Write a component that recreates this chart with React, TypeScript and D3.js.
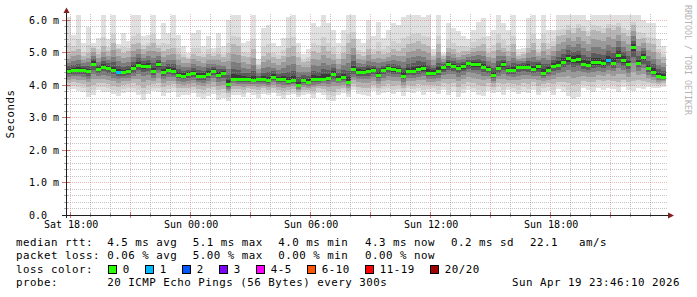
import React from 'react';
import * as d3 from 'd3';

const W = 697;
const H = 297;
const END = new Date(2026, 3, 19, 23, 46, 10);
const HOURS = 30;
const STEP_MIN = 15;

// median RTT (ms), one value per 15-minute step
const median = [
  4.43, 4.45, 4.47, 4.46, 4.42, 4.66, 4.48, 4.56, 4.52, 4.46, 4.39, 4.39, 4.42, 4.51, 4.63, 4.59, 4.60, 4.42, 4.64, 4.40, 4.46, 4.44, 4.31, 4.28,
  4.33, 4.36, 4.28, 4.28, 4.34, 4.44, 4.31, 4.36, 4.02, 4.20, 4.17, 4.17, 4.17, 4.16, 4.17, 4.18, 4.15, 4.25, 4.17, 4.18, 4.12, 4.15, 3.99, 4.15,
  4.10, 4.19, 4.18, 4.20, 4.22, 4.35, 4.20, 4.25, 4.10, 4.48, 4.41, 4.41, 4.43, 4.46, 4.31, 4.46, 4.51, 4.48, 4.46, 4.28, 4.43, 4.44, 4.48, 4.51,
  4.38, 4.38, 4.44, 4.54, 4.64, 4.58, 4.53, 4.58, 4.67, 4.64, 4.64, 4.56, 4.48, 4.31, 4.51, 4.64, 4.46, 4.46, 4.56, 4.56, 4.56, 4.48, 4.58, 4.38,
  4.46, 4.60, 4.62, 4.72, 4.82, 4.77, 4.79, 4.64, 4.62, 4.70, 4.70, 4.67, 4.77, 4.69, 4.92, 4.77, 4.64, 5.17, 4.69, 4.87, 4.51, 4.41, 4.28, 4.26,
];

// slowest ping of each step (ms)
const smokeMax = [
  6.10, 5.55, 6.15, 5.30, 5.80, 5.30, 5.45, 6.15, 5.40, 6.15, 5.25, 5.60, 5.35, 6.15, 6.15, 5.50, 5.55, 6.15, 5.40, 5.90, 5.60, 6.15, 5.55, 5.20,
  5.00, 5.60, 5.70, 5.20, 5.50, 5.15, 5.60, 5.20, 6.00, 6.15, 6.15, 5.30, 5.35, 6.15, 4.80, 5.75, 5.85, 5.30, 5.20, 5.45, 6.10, 6.15, 5.30, 4.95,
  5.10, 5.90, 5.80, 6.15, 5.90, 5.70, 5.30, 5.70, 6.15, 6.15, 5.40, 5.30, 6.00, 5.50, 5.95, 5.45, 5.70, 5.90, 5.85, 6.10, 6.15, 6.15, 6.15, 6.10,
  6.15, 5.10, 6.15, 5.00, 5.90, 5.75, 5.65, 5.50, 5.40, 5.70, 5.95, 6.05, 5.50, 5.70, 6.15, 5.90, 5.70, 6.15, 5.10, 5.15, 6.05, 6.15, 5.40, 6.15,
  5.70, 5.70, 6.15, 6.15, 6.15, 6.15, 6.15, 6.15, 6.00, 6.15, 6.15, 6.15, 6.15, 6.15, 6.15, 6.15, 6.15, 6.15, 6.15, 6.00, 5.90, 5.90, 5.40, 5.20,
];

// upper edge of the dense part of the smoke (ms)
const smokeHi = [
  4.95, 5.05, 5.10, 4.90, 5.00, 5.15, 4.95, 5.20, 5.05, 5.30, 5.10, 5.00, 5.05, 5.25, 5.30, 5.10, 5.20, 5.30, 5.15, 5.05, 5.10, 5.15, 4.95, 4.85,
  4.80, 4.95, 4.90, 4.85, 4.95, 4.90, 4.95, 4.85, 5.00, 5.25, 5.20, 4.90, 4.85, 5.10, 4.60, 4.90, 5.00, 4.85, 4.80, 4.90, 5.15, 5.20, 4.85, 4.70,
  4.75, 5.05, 5.00, 5.20, 5.05, 4.95, 4.80, 5.00, 5.30, 5.40, 4.95, 4.90, 5.10, 4.95, 5.05, 4.95, 5.00, 5.10, 5.05, 5.15, 5.25, 5.30, 5.35, 5.25,
  5.20, 4.90, 5.25, 4.90, 5.15, 5.10, 5.00, 5.05, 5.05, 5.15, 5.20, 5.25, 5.00, 5.05, 5.30, 5.15, 5.05, 5.25, 4.90, 4.95, 5.15, 5.30, 5.00, 5.30,
  5.10, 5.20, 5.50, 5.55, 5.70, 5.60, 5.75, 5.65, 5.50, 5.70, 5.65, 5.60, 5.75, 5.70, 5.80, 5.60, 5.50, 5.85, 5.40, 5.45, 5.30, 5.25, 5.00, 4.85,
];

// lower edge of the dense part of the smoke (ms)
const smokeLo = [
  4.05, 4.08, 4.05, 4.02, 3.95, 4.00, 4.05, 4.05, 4.02, 3.98, 3.95, 4.00, 4.02, 4.05, 4.00, 3.92, 4.00, 4.02, 4.05, 3.95, 4.00, 4.02, 3.92, 3.90,
  3.92, 3.95, 3.88, 3.85, 3.90, 3.95, 3.85, 3.88, 3.75, 3.88, 3.88, 3.85, 3.90, 3.88, 3.85, 3.90, 3.85, 3.90, 3.85, 3.82, 3.85, 3.88, 3.78, 3.85,
  3.85, 3.82, 3.90, 3.88, 3.82, 3.80, 3.88, 3.92, 3.82, 4.02, 3.95, 3.92, 3.90, 4.00, 3.92, 3.98, 4.02, 3.98, 4.00, 3.90, 4.00, 3.98, 4.02, 4.00,
  4.00, 4.00, 3.98, 4.05, 4.02, 4.05, 3.95, 4.02, 4.08, 4.05, 4.00, 3.98, 4.05, 3.95, 4.05, 4.02, 4.05, 4.02, 4.00, 4.05, 4.02, 4.08, 3.98, 4.02,
  4.05, 4.02, 4.10, 4.08, 4.05, 4.00, 4.02, 4.12, 4.10, 4.08, 4.15, 4.12, 4.15, 4.12, 4.10, 4.15, 4.10, 4.12, 4.15, 4.12, 4.10, 4.05, 4.02, 4.05,
];

// fastest ping of each step (ms)
const smokeMin = [
  3.85, 3.88, 3.82, 3.80, 3.62, 3.70, 3.85, 3.80, 3.78, 3.72, 3.66, 3.75, 3.80, 3.78, 3.70, 3.55, 3.72, 3.82, 3.78, 3.65, 3.74, 3.80, 3.62, 3.68,
  3.70, 3.75, 3.62, 3.58, 3.65, 3.72, 3.55, 3.60, 3.52, 3.68, 3.70, 3.62, 3.75, 3.70, 3.60, 3.72, 3.68, 3.75, 3.65, 3.58, 3.70, 3.72, 3.62, 3.70,
  3.72, 3.60, 3.75, 3.70, 3.55, 3.50, 3.68, 3.75, 3.62, 3.85, 3.72, 3.70, 3.65, 3.82, 3.70, 3.75, 3.80, 3.72, 3.78, 3.65, 3.80, 3.75, 3.82, 3.70,
  3.78, 3.80, 3.72, 3.85, 3.70, 3.80, 3.62, 3.75, 3.85, 3.78, 3.70, 3.66, 3.82, 3.75, 3.80, 3.70, 3.85, 3.78, 3.72, 3.80, 3.75, 3.85, 3.68, 3.80,
  3.82, 3.70, 3.88, 3.80, 3.65, 3.58, 3.62, 3.90, 3.85, 3.78, 3.90, 3.85, 3.92, 3.88, 3.80, 3.95, 3.85, 3.82, 3.90, 3.88, 3.95, 3.92, 3.90, 3.95,
];

// steps with lost pings: index and number lost (of 20)
const lossIndex = [10, 108];
const lossCount = [1, 1];

const yTicks = [0, 1, 2, 3, 4, 5, 6];
const lossLabels = ['0', '1', '2', '3', '4-5', '6-10', '11-19', '20/20'];
const lossColors = ['#26ff00', '#00b8ff', '#0059ff', '#7e00ff', '#ff00ff', '#ff5500', '#ff0000', '#a00000'];
const lossThresholds = [0, 1, 2, 3, 4, 6, 11, 20];
const rttStats = ['4.5 ms avg', '5.1 ms max', '4.0 ms min', '4.3 ms now', '0.2 ms sd', '22.1   am/s'];
const lossStats = ['0.06 % avg', '5.00 % max', '0.00 % min', '0.00 % now'];
const probeText = '20 ICMP Echo Pings (56 Bytes) every 300s';
const stampText = 'Sun Apr 19 23:46:10 2026';

const MONO = '"DejaVu Sans Mono", monospace';

export default function App() {
  const X0 = 66, X1 = 666, Y0 = 215, YT = 15;
  const START = new Date(+END - HOURS * 3600 * 1000);
  const x = d3.scaleTime().domain([START, END]).range([X0, X1]);
  const y = d3.scaleLinear().domain([0, (Y0 - YT) / 32.5]).range([Y0, YT]);

  const n = median.length;
  const times = d3.range(n + 1).map((i) => new Date(+START + i * STEP_MIN * 60000));
  const lossOf = (i: number) => {
    const k = lossIndex.indexOf(i);
    return k >= 0 ? lossCount[k] : 0;
  };
  const colorOf = (lc: number) => {
    let c = lossColors[0];
    lossThresholds.forEach((t, j) => { if (lc >= t) c = lossColors[j]; });
    return c;
  };

  const clampY = (v: number) => Math.max(YT, Math.min(Y0, y(v)));

  // shading layers: outer light to inner dark
  type Layer = { lo: (i: number) => number; hi: (i: number) => number; color: string };
  const lerp = (a: number, b: number, t: number) => a + (b - a) * t;
  const layers: Layer[] = [
    { lo: (i) => smokeMin[i], hi: (i) => smokeMax[i], color: '#e0e0e0' },
    { lo: (i) => lerp(smokeMin[i], smokeLo[i], 0.5), hi: (i) => lerp(smokeMax[i], smokeHi[i], 0.7), color: '#d0d0d0' },
    { lo: (i) => smokeLo[i], hi: (i) => smokeHi[i], color: '#b6b6b6' },
  ];
  const inner = [
    { f: 0.72, color: '#9a9a9a' },
    { f: 0.48, color: '#7b7b7b' },
    { f: 0.28, color: '#5b5b5b' },
    { f: 0.13, color: '#3a3a3a' },
  ];
  inner.forEach(({ f, color }) => {
    layers.push({
      lo: (i) => median[i] - (median[i] - smokeLo[i]) * f,
      hi: (i) => median[i] + (smokeHi[i] - median[i]) * f,
      color,
    });
  });

  const hours = d3.timeHour.range(START, END);
  const minorH = d3.range(1, 31).map((k) => +(k * 0.2).toFixed(1)).filter((v) => Math.abs(v - Math.round(v)) > 1e-6);
  const fmt = d3.timeFormat('%a %H:%M');
  const px = (v: number) => Math.floor(v) + 0.5;

  const minorGrid = 'rgba(150,150,150,0.55)';
  const majorGrid = 'rgba(225,100,100,0.45)';

  // legend box positions: each entry advances by box+spaces plus label width
  const boxX: number[] = [];
  lossLabels.reduce((acc, lab) => { boxX.push(acc); return acc + 37 + 7 * (lab.length - 1); }, 108);

  const statX = [107.3, 192.7, 278.3, 365, 451, 530];
  const textStyle: React.CSSProperties = { whiteSpace: 'pre' };

  return (
    <svg width={W} height={H} viewBox={`0 0 ${W} ${H}`} style={{ position: 'absolute', left: 0, top: 0, background: '#fff' }}>
      <rect x={0} y={0} width={W} height={H} fill="#fff" />
      <g shapeRendering="crispEdges">
        {layers.map((L, li) => (
          <g key={li} fill={L.color}>
            {median.map((_, i) => {
              const xa = Math.round(x(times[i]));
              const xb = Math.round(x(times[i + 1]));
              const ya = Math.round(clampY(L.hi(i)));
              const yb = Math.round(clampY(L.lo(i)));
              return <rect key={i} x={xa} y={ya} width={xb - xa} height={Math.max(0, yb - ya)} />;
            })}
          </g>
        ))}
      </g>

      {/* grid */}
      <g strokeWidth={1} strokeDasharray="1,1" shapeRendering="crispEdges">
        {minorH.map((v) => (
          <line key={'h' + v} x1={X0} x2={X1 + 2} y1={px(y(v))} y2={px(y(v))} stroke={minorGrid} />
        ))}
        {hours.filter((h) => h.getHours() % 3 !== 0).map((h) => (
          <line key={'v' + +h} x1={px(x(h))} x2={px(x(h))} y1={YT - 1} y2={Y0} stroke={minorGrid} />
        ))}
        {yTicks.filter((v) => v > 0).map((v) => (
          <line key={'H' + v} x1={X0} x2={X1 + 2} y1={px(y(v))} y2={px(y(v))} stroke={majorGrid} />
        ))}
        {hours.filter((h) => h.getHours() % 3 === 0).map((h) => (
          <line key={'V' + +h} x1={px(x(h))} x2={px(x(h))} y1={YT - 1} y2={Y0} stroke={majorGrid} />
        ))}
      </g>

      {/* median */}
      <g shapeRendering="crispEdges">
        {median.map((m, i) => {
          const xa = Math.round(x(times[i]));
          const xb = Math.round(x(times[i + 1]));
          const ym = Math.round(y(m));
          return <rect key={i} x={xa} y={ym - 1} width={xb - xa} height={3} fill={colorOf(lossOf(i))} />;
        })}
      </g>

      {/* ticks */}
      <g shapeRendering="crispEdges">
        {hours.map((h) => {
          const maj = h.getHours() % 3 === 0;
          return (
            <line key={'t' + +h} x1={px(x(h))} x2={px(x(h))} y1={maj ? 212 : 213} y2={maj ? 218 : 217}
              stroke={maj ? 'rgba(200,60,60,0.7)' : 'rgba(120,120,120,0.7)'} />
          );
        })}
        {yTicks.map((v) => (
          <line key={'yt' + v} x1={62} x2={70} y1={px(y(v))} y2={px(y(v))} stroke="rgba(200,60,60,0.7)" />
        ))}
        {minorH.map((v) => (
          <line key={'ym' + v} x1={64} x2={68} y1={px(y(v))} y2={px(y(v))} stroke="rgba(120,120,120,0.6)" />
        ))}
      </g>

      {/* axes */}
      <g shapeRendering="crispEdges">
        <line x1={62} x2={669} y1={215.5} y2={215.5} stroke="#1f1f1f" />
        <line x1={66.5} x2={66.5} y1={218} y2={12} stroke="#1f1f1f" />
      </g>
      <path d="M668,212.5 L674,215.5 L668,218.5 Z" fill="#801f1f" />
      <path d="M63.5,13 L66.5,7.5 L69.5,13 Z" fill="#801f1f" />

      {/* axis labels */}
      <g fontFamily={MONO} fontSize={10} fill="#000">
        {yTicks.map((v) => (
          <text key={'yl' + v} x={29} y={y(v) + 3.8} style={textStyle}>
            {v === 0 ? '0.0' : `${v.toFixed(1)} m`}
          </text>
        ))}
        {hours.filter((h) => h.getHours() % 6 === 0).map((h) => (
          <text key={'xl' + +h} x={x(h) + 0.5} y={228} textAnchor="middle">{fmt(h)}</text>
        ))}
      </g>

      <text transform="translate(14,114) rotate(-90)" textAnchor="middle" fontFamily={MONO} fontSize={10.8} letterSpacing={0.5} fill="#000">Seconds</text>
      <text transform="translate(685,5) rotate(90)" fontFamily={MONO} fontSize={8.3} fill="#b4b4b4">RRDTOOL / TOBI OETIKER</text>

      {/* legend */}
      <g fontFamily={MONO} fontSize={10.8} letterSpacing={0.5} fill="#000">
        <text x={16} y={245.5}>median rtt:</text>
        {rttStats.map((s, i) => (
          <text key={'r' + i} x={statX[i]} y={245.5} style={textStyle}>{s}</text>
        ))}
        <text x={16} y={259}>packet loss:</text>
        {lossStats.map((s, i) => (
          <text key={'l' + i} x={statX[i]} y={259} style={textStyle}>{s}</text>
        ))}
        <text x={16} y={272.5}>loss color:</text>
        {lossLabels.map((lab, i) => (
          <g key={'lc' + i}>
            <rect x={boxX[i] + 0.5} y={265.5} width={8} height={8} fill={lossColors[i]} stroke="#000" strokeWidth={1} shapeRendering="crispEdges" />
            <text x={boxX[i] + 14.7} y={272.5}>{lab}</text>
          </g>
        ))}
        <text x={16} y={286}>probe:</text>
        <text x={107.3} y={286} style={textStyle}>{probeText}</text>
        <text x={680} y={286} textAnchor="end" style={textStyle}>{stampText}</text>
      </g>
    </svg>
  );
}
